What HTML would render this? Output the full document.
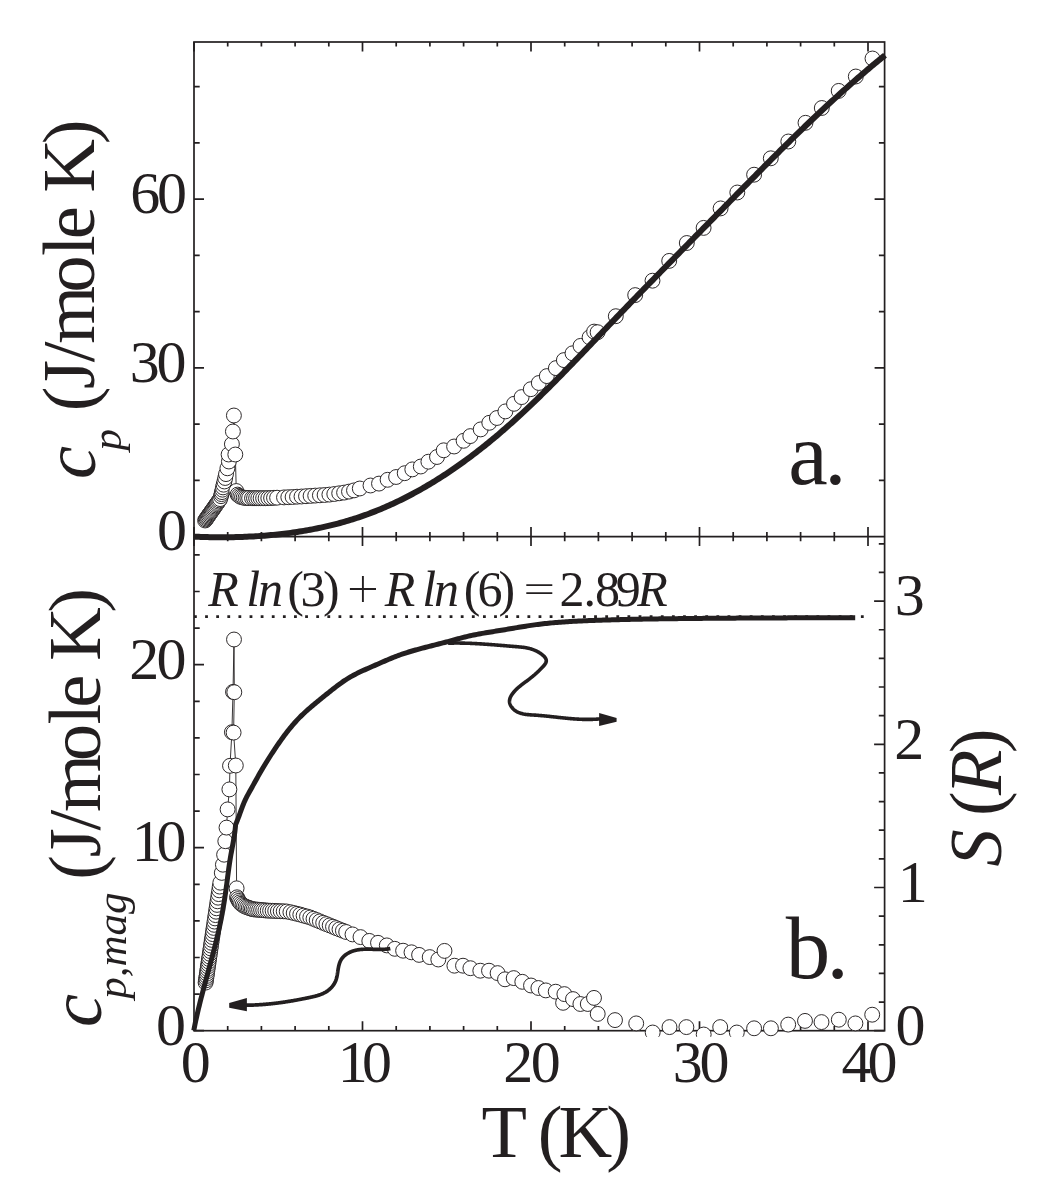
<!DOCTYPE html><html><head><meta charset="utf-8"><style>html,body{margin:0;padding:0;background:#fff;overflow:hidden}svg{display:block;will-change:transform}</style></head><body><svg width="1052" height="1191" viewBox="0 0 1052 1191">
<rect width="1052" height="1191" fill="#fff"/>
<defs><clipPath id="ca"><rect x="194.0" y="42.0" width="690.6" height="494.6"/></clipPath><clipPath id="cb"><rect x="184.0" y="536.6" width="700.6" height="500.1"/></clipPath></defs>
<g fill="none" stroke="#231f20" stroke-width="1.7" stroke-linecap="butt">
<path d="M194.00,42.0v9.5M194.00,536.6v-9.5M194.00,536.6v9.5M194.00,1030.7v-9.5M227.70,42.0v4.6M227.70,536.6v-4.6M227.70,536.6v4.6M227.70,1030.7v-4.6M261.40,42.0v4.6M261.40,536.6v-4.6M261.40,536.6v4.6M261.40,1030.7v-4.6M295.10,42.0v4.6M295.10,536.6v-4.6M295.10,536.6v4.6M295.10,1030.7v-4.6M328.80,42.0v4.6M328.80,536.6v-4.6M328.80,536.6v4.6M328.80,1030.7v-4.6M362.50,42.0v9.5M362.50,536.6v-9.5M362.50,536.6v9.5M362.50,1030.7v-9.5M396.20,42.0v4.6M396.20,536.6v-4.6M396.20,536.6v4.6M396.20,1030.7v-4.6M429.90,42.0v4.6M429.90,536.6v-4.6M429.90,536.6v4.6M429.90,1030.7v-4.6M463.60,42.0v4.6M463.60,536.6v-4.6M463.60,536.6v4.6M463.60,1030.7v-4.6M497.30,42.0v4.6M497.30,536.6v-4.6M497.30,536.6v4.6M497.30,1030.7v-4.6M531.00,42.0v9.5M531.00,536.6v-9.5M531.00,536.6v9.5M531.00,1030.7v-9.5M564.70,42.0v4.6M564.70,536.6v-4.6M564.70,536.6v4.6M564.70,1030.7v-4.6M598.40,42.0v4.6M598.40,536.6v-4.6M598.40,536.6v4.6M598.40,1030.7v-4.6M632.10,42.0v4.6M632.10,536.6v-4.6M632.10,536.6v4.6M632.10,1030.7v-4.6M665.80,42.0v4.6M665.80,536.6v-4.6M665.80,536.6v4.6M665.80,1030.7v-4.6M699.50,42.0v9.5M699.50,536.6v-9.5M699.50,536.6v9.5M699.50,1030.7v-9.5M733.20,42.0v4.6M733.20,536.6v-4.6M733.20,536.6v4.6M733.20,1030.7v-4.6M766.90,42.0v4.6M766.90,536.6v-4.6M766.90,536.6v4.6M766.90,1030.7v-4.6M800.60,42.0v4.6M800.60,536.6v-4.6M800.60,536.6v4.6M800.60,1030.7v-4.6M834.30,42.0v4.6M834.30,536.6v-4.6M834.30,536.6v4.6M834.30,1030.7v-4.6M868.00,42.0v9.5M868.00,536.6v-9.5M868.00,536.6v9.5M868.00,1030.7v-9.5M194.0,480.35h5.7M884.6,480.35h-5.7M194.0,424.10h5.7M884.6,424.10h-5.7M194.0,367.85h10M884.6,367.85h-10M194.0,311.60h5.7M884.6,311.60h-5.7M194.0,255.35h5.7M884.6,255.35h-5.7M194.0,199.10h10M884.6,199.10h-10M194.0,142.85h5.7M884.6,142.85h-5.7M194.0,86.60h5.7M884.6,86.60h-5.7M194.0,1030.70h10M194.0,994.10h5.7M194.0,957.50h5.7M194.0,920.90h5.7M194.0,884.30h5.7M194.0,847.70h10M194.0,811.10h5.7M194.0,774.50h5.7M194.0,737.90h5.7M194.0,701.30h5.7M194.0,664.70h10M194.0,628.10h5.7M194.0,591.50h5.7M194.0,554.90h5.7M884.6,1030.70h-10.5M884.6,1002.06h-5.8M884.6,973.42h-5.8M884.6,944.78h-5.8M884.6,916.14h-5.8M884.6,887.50h-10.5M884.6,858.86h-5.8M884.6,830.22h-5.8M884.6,801.58h-5.8M884.6,772.94h-5.8M884.6,744.30h-10.5M884.6,715.66h-5.8M884.6,687.02h-5.8M884.6,658.38h-5.8M884.6,629.74h-5.8M884.6,601.10h-10.5M884.6,572.46h-5.8M884.6,543.82h-5.8"/>
<rect x="194.0" y="42.0" width="690.60" height="988.70"/>
<path d="M194.0,536.6H884.6"/>
</g>
<g clip-path="url(#ca)">
<path d="M220.08,499.09 L221.02,496.20 L221.50,494.10 L221.95,492.10 L222.50,489.70 L223.02,487.40 L223.63,484.70 L224.36,481.50 L225.15,478.00 L226.04,474.10 L227.36,468.30 L228.90,461.50 L228.60,454.50 L231.90,444.10 L232.90,431.50 L233.90,415.50 L235.30,454.50 L236.30,491.00" fill="none" stroke="#231f20" stroke-width="0.9"/>
<g fill="#fff" stroke="#231f20" stroke-width="0.95">
<circle cx="205.1" cy="520.5" r="7.45"/>
<circle cx="205.8" cy="519.5" r="7.45"/>
<circle cx="206.5" cy="518.5" r="7.45"/>
<circle cx="207.2" cy="517.5" r="7.45"/>
<circle cx="207.9" cy="516.5" r="7.45"/>
<circle cx="208.6" cy="515.4" r="7.45"/>
<circle cx="209.4" cy="514.4" r="7.45"/>
<circle cx="210.1" cy="513.3" r="7.45"/>
<circle cx="210.9" cy="512.2" r="7.45"/>
<circle cx="211.7" cy="511.1" r="7.45"/>
<circle cx="212.5" cy="510.0" r="7.45"/>
<circle cx="213.3" cy="508.8" r="7.45"/>
<circle cx="214.1" cy="507.7" r="7.45"/>
<circle cx="214.9" cy="506.5" r="7.45"/>
<circle cx="215.7" cy="505.3" r="7.45"/>
<circle cx="216.6" cy="504.1" r="7.45"/>
<circle cx="217.4" cy="502.9" r="7.45"/>
<circle cx="218.3" cy="501.6" r="7.45"/>
<circle cx="219.2" cy="500.4" r="7.45"/>
<circle cx="220.1" cy="499.1" r="7.45"/>
<circle cx="221.0" cy="496.2" r="7.45"/>
<circle cx="221.5" cy="494.1" r="7.45"/>
<circle cx="222.0" cy="492.1" r="7.45"/>
<circle cx="222.5" cy="489.7" r="7.45"/>
<circle cx="223.0" cy="487.4" r="7.45"/>
<circle cx="223.6" cy="484.7" r="7.45"/>
<circle cx="224.4" cy="481.5" r="7.45"/>
<circle cx="225.2" cy="478.0" r="7.45"/>
<circle cx="226.0" cy="474.1" r="7.45"/>
<circle cx="227.4" cy="468.3" r="7.45"/>
<circle cx="228.9" cy="461.5" r="7.45"/>
<circle cx="228.6" cy="454.5" r="7.45"/>
<circle cx="231.9" cy="444.1" r="7.45"/>
<circle cx="232.9" cy="431.5" r="7.45"/>
<circle cx="233.9" cy="415.5" r="7.45"/>
<circle cx="235.3" cy="454.5" r="7.45"/>
<circle cx="236.3" cy="491.0" r="7.45"/>
<circle cx="237.6" cy="494.6" r="7.45"/>
<circle cx="238.9" cy="495.7" r="7.45"/>
<circle cx="240.3" cy="496.7" r="7.45"/>
<circle cx="242.0" cy="497.2" r="7.45"/>
<circle cx="243.7" cy="497.7" r="7.45"/>
<circle cx="245.5" cy="497.9" r="7.45"/>
<circle cx="247.3" cy="498.0" r="7.45"/>
<circle cx="249.1" cy="498.1" r="7.45"/>
<circle cx="252.0" cy="498.2" r="7.45"/>
<circle cx="254.0" cy="498.2" r="7.45"/>
<circle cx="256.1" cy="498.2" r="7.45"/>
<circle cx="258.3" cy="498.2" r="7.45"/>
<circle cx="260.6" cy="498.2" r="7.45"/>
<circle cx="263.1" cy="498.2" r="7.45"/>
<circle cx="265.6" cy="498.2" r="7.45"/>
<circle cx="268.3" cy="498.1" r="7.45"/>
<circle cx="271.1" cy="498.0" r="7.45"/>
<circle cx="274.0" cy="497.8" r="7.45"/>
<circle cx="277.1" cy="497.7" r="7.45"/>
<circle cx="284.0" cy="497.4" r="7.45"/>
<circle cx="288.3" cy="497.2" r="7.45"/>
<circle cx="292.6" cy="497.0" r="7.45"/>
<circle cx="297.0" cy="496.7" r="7.45"/>
<circle cx="301.5" cy="496.5" r="7.45"/>
<circle cx="306.0" cy="496.2" r="7.45"/>
<circle cx="310.6" cy="495.9" r="7.45"/>
<circle cx="315.2" cy="495.6" r="7.45"/>
<circle cx="319.9" cy="495.3" r="7.45"/>
<circle cx="324.6" cy="495.0" r="7.45"/>
<circle cx="329.4" cy="494.6" r="7.45"/>
<circle cx="334.3" cy="494.0" r="7.45"/>
<circle cx="339.2" cy="493.3" r="7.45"/>
<circle cx="344.1" cy="492.6" r="7.45"/>
<circle cx="349.0" cy="491.6" r="7.45"/>
<circle cx="354.0" cy="490.4" r="7.45"/>
<circle cx="359.8" cy="488.5" r="7.45"/>
<circle cx="370.5" cy="485.5" r="7.45"/>
<circle cx="379.0" cy="483.6" r="7.45"/>
<circle cx="387.6" cy="479.8" r="7.45"/>
<circle cx="396.1" cy="477.0" r="7.45"/>
<circle cx="404.7" cy="473.2" r="7.45"/>
<circle cx="412.3" cy="469.4" r="7.45"/>
<circle cx="420.8" cy="466.5" r="7.45"/>
<circle cx="428.4" cy="461.7" r="7.45"/>
<circle cx="437.0" cy="457.0" r="7.45"/>
<circle cx="443.7" cy="450.3" r="7.45"/>
<circle cx="454.1" cy="446.5" r="7.45"/>
<circle cx="463.6" cy="440.8" r="7.45"/>
<circle cx="470.3" cy="436.1" r="7.45"/>
<circle cx="480.7" cy="429.4" r="7.45"/>
<circle cx="489.3" cy="422.8" r="7.45"/>
<circle cx="496.9" cy="418.0" r="7.45"/>
<circle cx="505.4" cy="411.4" r="7.45"/>
<circle cx="514.0" cy="403.8" r="7.45"/>
<circle cx="521.6" cy="397.1" r="7.45"/>
<circle cx="530.8" cy="389.2" r="7.45"/>
<circle cx="538.8" cy="383.0" r="7.45"/>
<circle cx="546.8" cy="376.1" r="7.45"/>
<circle cx="555.9" cy="368.1" r="7.45"/>
<circle cx="563.9" cy="360.1" r="7.45"/>
<circle cx="572.5" cy="353.3" r="7.45"/>
<circle cx="580.5" cy="345.9" r="7.45"/>
<circle cx="589.6" cy="337.3" r="7.45"/>
<circle cx="594.1" cy="331.6" r="7.45"/>
<circle cx="597.6" cy="332.2" r="7.45"/>
<circle cx="615.8" cy="316.2" r="7.45"/>
<circle cx="635.2" cy="295.1" r="7.45"/>
<circle cx="652.5" cy="280.7" r="7.45"/>
<circle cx="669.2" cy="260.9" r="7.45"/>
<circle cx="686.8" cy="243.0" r="7.45"/>
<circle cx="703.6" cy="227.9" r="7.45"/>
<circle cx="720.6" cy="208.4" r="7.45"/>
<circle cx="737.3" cy="192.5" r="7.45"/>
<circle cx="754.1" cy="174.7" r="7.45"/>
<circle cx="770.8" cy="158.3" r="7.45"/>
<circle cx="788.3" cy="141.5" r="7.45"/>
<circle cx="805.5" cy="122.8" r="7.45"/>
<circle cx="821.8" cy="108.0" r="7.45"/>
<circle cx="838.7" cy="90.9" r="7.45"/>
<circle cx="855.8" cy="76.5" r="7.45"/>
<circle cx="872.5" cy="58.5" r="7.45"/>
</g>
</g>
<path d="M194.35,536.66 L196.53,536.75 L198.71,536.84 L200.88,536.91 L203.06,536.98 L205.25,537.04 L207.43,537.10 L209.62,537.14 L211.80,537.18 L213.99,537.22 L216.18,537.24 L218.37,537.26 L220.56,537.26 L222.75,537.27 L224.95,537.26 L227.14,537.24 L229.34,537.22 L231.53,537.19 L233.73,537.15 L235.92,537.10 L238.12,537.04 L240.32,536.97 L242.52,536.90 L244.71,536.81 L246.91,536.72 L249.11,536.62 L251.30,536.51 L253.50,536.39 L255.70,536.26 L257.89,536.12 L260.09,535.97 L262.28,535.81 L264.47,535.65 L266.66,535.47 L268.86,535.28 L271.04,535.08 L273.23,534.88 L275.42,534.66 L277.61,534.43 L279.79,534.19 L281.97,533.95 L284.16,533.69 L286.34,533.42 L288.51,533.14 L290.69,532.85 L292.86,532.55 L295.03,532.23 L297.20,531.91 L299.37,531.57 L301.53,531.23 L303.70,530.87 L305.85,530.50 L308.01,530.12 L310.16,529.73 L312.31,529.33 L314.46,528.91 L316.61,528.48 L318.75,528.05 L320.89,527.59 L323.02,527.13 L325.15,526.66 L327.28,526.17 L329.40,525.67 L331.52,525.16 L333.64,524.63 L335.75,524.09 L337.86,523.54 L339.96,522.98 L342.06,522.40 L344.16,521.81 L346.25,521.21 L348.33,520.60 L350.41,519.97 L352.49,519.32 L354.56,518.67 L356.63,518.00 L358.69,517.32 L360.75,516.62 L362.80,515.91 L364.85,515.18 L366.89,514.45 L368.92,513.69 L370.96,512.93 L372.98,512.15 L375.00,511.36 L377.02,510.56 L379.03,509.74 L381.03,508.91 L383.03,508.07 L385.03,507.21 L387.02,506.35 L389.00,505.47 L390.98,504.57 L392.95,503.67 L394.92,502.75 L396.88,501.83 L398.84,500.89 L400.79,499.94 L402.74,498.97 L404.68,498.00 L406.62,497.01 L408.55,496.02 L410.48,495.01 L412.40,493.99 L414.31,492.96 L416.22,491.92 L418.13,490.87 L420.03,489.81 L421.92,488.74 L423.81,487.65 L425.70,486.56 L427.58,485.46 L429.45,484.35 L431.32,483.23 L433.18,482.09 L435.04,480.95 L436.89,479.80 L438.74,478.64 L440.58,477.47 L442.42,476.29 L444.25,475.11 L446.08,473.91 L447.90,472.70 L449.71,471.49 L451.52,470.27 L453.33,469.04 L455.13,467.80 L456.92,466.55 L458.71,465.29 L460.49,464.03 L462.27,462.76 L464.04,461.48 L465.81,460.19 L467.57,458.89 L469.33,457.59 L471.08,456.28 L472.83,454.96 L474.57,453.64 L476.30,452.31 L478.03,450.97 L479.76,449.63 L481.48,448.27 L483.19,446.92 L484.90,445.55 L486.60,444.18 L488.30,442.80 L489.99,441.42 L491.68,440.03 L493.36,438.64 L495.04,437.23 L496.71,435.83 L498.38,434.42 L500.04,433.00 L501.70,431.57 L503.35,430.14 L505.00,428.71 L506.65,427.27 L508.29,425.83 L509.92,424.38 L511.55,422.92 L513.18,421.46 L514.80,420.00 L516.42,418.53 L518.04,417.05 L519.65,415.58 L521.25,414.09 L522.86,412.61 L524.46,411.11 L526.05,409.62 L527.65,408.12 L529.24,406.62 L530.82,405.11 L532.40,403.60 L533.98,402.08 L535.56,400.57 L537.13,399.05 L538.70,397.52 L540.27,395.99 L541.83,394.46 L543.39,392.93 L544.95,391.39 L546.51,389.85 L548.06,388.31 L549.61,386.76 L551.16,385.21 L552.71,383.66 L554.25,382.11 L555.79,380.55 L557.33,378.99 L558.87,377.43 L560.40,375.87 L561.94,374.30 L563.47,372.74 L565.00,371.17 L566.52,369.60 L568.05,368.03 L569.58,366.45 L571.10,364.88 L572.62,363.30 L574.14,361.72 L575.66,360.14 L577.18,358.57 L578.70,356.98 L580.21,355.40 L581.73,353.82 L583.24,352.24 L584.76,350.65 L586.27,349.07 L587.78,347.48 L589.29,345.90 L590.80,344.31 L592.31,342.73 L593.82,341.14 L595.33,339.56 L596.84,337.97 L598.35,336.39 L599.86,334.80 L601.37,333.22 L602.88,331.63 L604.39,330.05 L605.90,328.46 L607.41,326.88 L608.92,325.30 L610.43,323.72 L611.95,322.14 L613.46,320.56 L614.97,318.98 L616.48,317.41 L618.00,315.83 L619.51,314.26 L621.03,312.68 L622.54,311.11 L624.06,309.54 L625.57,307.96 L627.09,306.39 L628.60,304.82 L630.12,303.25 L631.64,301.68 L633.16,300.12 L634.67,298.55 L636.19,296.98 L637.71,295.42 L639.23,293.85 L640.75,292.28 L642.27,290.72 L643.79,289.16 L645.31,287.59 L646.83,286.03 L648.35,284.47 L649.87,282.91 L651.39,281.35 L652.92,279.79 L654.44,278.23 L655.96,276.67 L657.49,275.11 L659.01,273.55 L660.53,271.99 L662.06,270.43 L663.58,268.87 L665.11,267.32 L666.63,265.76 L668.16,264.20 L669.68,262.65 L671.21,261.09 L672.73,259.54 L674.26,257.98 L675.78,256.42 L677.31,254.87 L678.84,253.32 L680.36,251.76 L681.89,250.21 L683.42,248.65 L684.95,247.10 L686.47,245.54 L688.00,243.99 L689.53,242.44 L691.06,240.88 L692.59,239.33 L694.12,237.77 L695.64,236.22 L697.17,234.67 L698.70,233.11 L700.23,231.56 L701.76,230.00 L703.29,228.45 L704.82,226.90 L706.35,225.34 L707.88,223.79 L709.41,222.23 L710.94,220.68 L712.47,219.12 L714.00,217.57 L715.53,216.01 L717.06,214.46 L718.59,212.90 L720.12,211.35 L721.65,209.79 L723.18,208.23 L724.71,206.68 L726.25,205.12 L727.78,203.56 L729.31,202.00 L730.84,200.45 L732.37,198.89 L733.90,197.33 L735.43,195.77 L736.96,194.21 L738.50,192.65 L740.03,191.10 L741.56,189.54 L743.10,187.98 L744.63,186.42 L746.16,184.86 L747.70,183.31 L749.23,181.75 L750.77,180.19 L752.30,178.63 L753.84,177.08 L755.38,175.52 L756.92,173.97 L758.46,172.41 L760.00,170.86 L761.54,169.31 L763.08,167.75 L764.62,166.20 L766.16,164.65 L767.71,163.10 L769.25,161.55 L770.80,160.00 L772.34,158.46 L773.89,156.91 L775.44,155.37 L776.99,153.82 L778.54,152.28 L780.09,150.74 L781.64,149.20 L783.20,147.66 L784.75,146.12 L786.31,144.58 L787.87,143.05 L789.43,141.51 L790.99,139.98 L792.55,138.45 L794.12,136.92 L795.68,135.40 L797.25,133.87 L798.82,132.35 L800.39,130.83 L801.96,129.31 L803.53,127.79 L805.11,126.27 L806.69,124.76 L808.27,123.24 L809.85,121.73 L811.43,120.23 L813.01,118.72 L814.60,117.22 L816.19,115.72 L817.78,114.22 L819.37,112.72 L820.96,111.22 L822.56,109.73 L824.15,108.24 L825.75,106.76 L827.36,105.27 L828.96,103.79 L830.57,102.31 L832.18,100.83 L833.79,99.36 L835.40,97.89 L837.02,96.42 L838.63,94.96 L840.25,93.49 L841.88,92.03 L843.50,90.58 L845.13,89.12 L846.76,87.67 L848.39,86.23 L850.03,84.78 L851.67,83.34 L853.31,81.90 L854.95,80.47 L856.60,79.04 L858.25,77.61 L859.90,76.19 L861.55,74.77 L863.21,73.35 L864.87,71.94 L866.53,70.53 L868.20,69.12 L869.87,67.72 L871.54,66.32 L873.22,64.93 L874.89,63.54 L876.58,62.15 L878.26,60.77 L879.95,59.39 L881.64,58.02 L883.33,56.64 L885.03,55.28" fill="none" stroke="#231f20" stroke-width="6.0" stroke-linejoin="round"/>
<path d="M194.0,616.6H864.2" stroke="#231f20" stroke-width="2.8" stroke-dasharray="2.8 8.315" fill="none"/>
<g clip-path="url(#cb)">
<path d="M219.16,890.35 L219.72,886.56 L220.29,882.71 L221.80,872.90 L222.90,864.70 L224.10,854.70 L225.30,841.20 L226.50,827.60 L227.60,809.40 L229.40,789.40 L230.00,765.80 L231.90,732.20 L233.00,691.90 L234.00,639.50 L234.30,692.20 L233.60,732.60 L235.80,765.50 L236.60,888.30" fill="none" stroke="#231f20" stroke-width="0.9"/>
<g fill="#fff" stroke="#231f20" stroke-width="0.95">
<circle cx="205.6" cy="982.6" r="7.45"/>
<circle cx="205.9" cy="980.4" r="7.45"/>
<circle cx="206.2" cy="978.2" r="7.45"/>
<circle cx="206.6" cy="976.0" r="7.45"/>
<circle cx="206.9" cy="973.7" r="7.45"/>
<circle cx="207.2" cy="971.3" r="7.45"/>
<circle cx="207.6" cy="969.0" r="7.45"/>
<circle cx="207.9" cy="966.5" r="7.45"/>
<circle cx="208.3" cy="964.1" r="7.45"/>
<circle cx="208.7" cy="961.6" r="7.45"/>
<circle cx="209.0" cy="959.0" r="7.45"/>
<circle cx="209.4" cy="956.5" r="7.45"/>
<circle cx="209.8" cy="953.8" r="7.45"/>
<circle cx="210.2" cy="951.1" r="7.45"/>
<circle cx="210.6" cy="948.4" r="7.45"/>
<circle cx="211.0" cy="945.6" r="7.45"/>
<circle cx="211.4" cy="942.8" r="7.45"/>
<circle cx="211.8" cy="939.9" r="7.45"/>
<circle cx="212.3" cy="937.0" r="7.45"/>
<circle cx="212.7" cy="934.1" r="7.45"/>
<circle cx="213.1" cy="931.0" r="7.45"/>
<circle cx="213.6" cy="927.9" r="7.45"/>
<circle cx="214.1" cy="924.8" r="7.45"/>
<circle cx="214.5" cy="921.6" r="7.45"/>
<circle cx="215.0" cy="918.4" r="7.45"/>
<circle cx="215.5" cy="915.1" r="7.45"/>
<circle cx="216.0" cy="911.7" r="7.45"/>
<circle cx="216.5" cy="908.3" r="7.45"/>
<circle cx="217.0" cy="904.9" r="7.45"/>
<circle cx="217.5" cy="901.3" r="7.45"/>
<circle cx="218.1" cy="897.7" r="7.45"/>
<circle cx="218.6" cy="894.1" r="7.45"/>
<circle cx="219.2" cy="890.3" r="7.45"/>
<circle cx="219.7" cy="886.6" r="7.45"/>
<circle cx="220.3" cy="882.7" r="7.45"/>
<circle cx="221.8" cy="872.9" r="7.45"/>
<circle cx="222.9" cy="864.7" r="7.45"/>
<circle cx="224.1" cy="854.7" r="7.45"/>
<circle cx="225.3" cy="841.2" r="7.45"/>
<circle cx="226.5" cy="827.6" r="7.45"/>
<circle cx="227.6" cy="809.4" r="7.45"/>
<circle cx="229.4" cy="789.4" r="7.45"/>
<circle cx="230.0" cy="765.8" r="7.45"/>
<circle cx="231.9" cy="732.2" r="7.45"/>
<circle cx="233.0" cy="691.9" r="7.45"/>
<circle cx="234.0" cy="639.5" r="7.45"/>
<circle cx="234.3" cy="692.2" r="7.45"/>
<circle cx="233.6" cy="732.6" r="7.45"/>
<circle cx="235.8" cy="765.5" r="7.45"/>
<circle cx="236.6" cy="888.3" r="7.45"/>
<circle cx="237.0" cy="897.3" r="7.45"/>
<circle cx="237.8" cy="899.1" r="7.45"/>
<circle cx="238.7" cy="900.9" r="7.45"/>
<circle cx="239.8" cy="902.4" r="7.45"/>
<circle cx="241.0" cy="903.8" r="7.45"/>
<circle cx="242.5" cy="904.9" r="7.45"/>
<circle cx="244.0" cy="905.9" r="7.45"/>
<circle cx="245.6" cy="906.7" r="7.45"/>
<circle cx="247.2" cy="907.3" r="7.45"/>
<circle cx="248.8" cy="907.9" r="7.45"/>
<circle cx="250.4" cy="908.4" r="7.45"/>
<circle cx="251.9" cy="909.0" r="7.45"/>
<circle cx="253.5" cy="909.3" r="7.45"/>
<circle cx="255.3" cy="909.5" r="7.45"/>
<circle cx="257.2" cy="909.6" r="7.45"/>
<circle cx="259.1" cy="909.8" r="7.45"/>
<circle cx="261.1" cy="910.0" r="7.45"/>
<circle cx="263.2" cy="910.2" r="7.45"/>
<circle cx="265.4" cy="910.4" r="7.45"/>
<circle cx="267.7" cy="910.6" r="7.45"/>
<circle cx="270.1" cy="910.7" r="7.45"/>
<circle cx="272.6" cy="910.8" r="7.45"/>
<circle cx="275.2" cy="910.9" r="7.45"/>
<circle cx="277.9" cy="911.1" r="7.45"/>
<circle cx="280.7" cy="911.2" r="7.45"/>
<circle cx="283.7" cy="911.3" r="7.45"/>
<circle cx="286.7" cy="911.5" r="7.45"/>
<circle cx="290.4" cy="912.2" r="7.45"/>
<circle cx="293.7" cy="913.0" r="7.45"/>
<circle cx="297.0" cy="913.8" r="7.45"/>
<circle cx="300.3" cy="914.6" r="7.45"/>
<circle cx="303.6" cy="915.6" r="7.45"/>
<circle cx="307.0" cy="916.5" r="7.45"/>
<circle cx="310.3" cy="917.5" r="7.45"/>
<circle cx="313.5" cy="918.8" r="7.45"/>
<circle cx="316.7" cy="920.1" r="7.45"/>
<circle cx="319.9" cy="921.4" r="7.45"/>
<circle cx="323.2" cy="922.8" r="7.45"/>
<circle cx="326.4" cy="924.1" r="7.45"/>
<circle cx="329.7" cy="925.4" r="7.45"/>
<circle cx="333.0" cy="926.7" r="7.45"/>
<circle cx="336.2" cy="928.1" r="7.45"/>
<circle cx="339.5" cy="929.4" r="7.45"/>
<circle cx="342.9" cy="930.7" r="7.45"/>
<circle cx="346.2" cy="932.0" r="7.45"/>
<circle cx="352.5" cy="934.4" r="7.45"/>
<circle cx="360.5" cy="937.1" r="7.45"/>
<circle cx="369.3" cy="940.9" r="7.45"/>
<circle cx="378.0" cy="942.8" r="7.45"/>
<circle cx="386.8" cy="945.4" r="7.45"/>
<circle cx="394.8" cy="948.8" r="7.45"/>
<circle cx="403.1" cy="950.7" r="7.45"/>
<circle cx="411.5" cy="952.3" r="7.45"/>
<circle cx="419.1" cy="954.9" r="7.45"/>
<circle cx="429.7" cy="957.1" r="7.45"/>
<circle cx="438.3" cy="959.5" r="7.45"/>
<circle cx="444.5" cy="950.9" r="7.45"/>
<circle cx="454.4" cy="965.7" r="7.45"/>
<circle cx="463.0" cy="965.7" r="7.45"/>
<circle cx="470.4" cy="968.2" r="7.45"/>
<circle cx="480.3" cy="970.7" r="7.45"/>
<circle cx="489.0" cy="970.7" r="7.45"/>
<circle cx="497.6" cy="973.1" r="7.45"/>
<circle cx="505.0" cy="979.3" r="7.45"/>
<circle cx="513.7" cy="978.1" r="7.45"/>
<circle cx="522.3" cy="981.8" r="7.45"/>
<circle cx="531.0" cy="985.5" r="7.45"/>
<circle cx="538.4" cy="988.0" r="7.45"/>
<circle cx="545.8" cy="990.4" r="7.45"/>
<circle cx="555.7" cy="991.7" r="7.45"/>
<circle cx="563.1" cy="1002.8" r="7.45"/>
<circle cx="564.4" cy="994.1" r="7.45"/>
<circle cx="573.0" cy="999.1" r="7.45"/>
<circle cx="580.4" cy="1004.0" r="7.45"/>
<circle cx="587.8" cy="1004.0" r="7.45"/>
<circle cx="594.0" cy="997.9" r="7.45"/>
<circle cx="597.7" cy="1013.9" r="7.45"/>
<circle cx="615.0" cy="1020.1" r="7.45"/>
<circle cx="636.2" cy="1023.4" r="7.45"/>
<circle cx="652.7" cy="1032.5" r="7.45"/>
<circle cx="669.5" cy="1027.1" r="7.45"/>
<circle cx="686.4" cy="1027.1" r="7.45"/>
<circle cx="703.7" cy="1034.5" r="7.45"/>
<circle cx="720.2" cy="1027.1" r="7.45"/>
<circle cx="736.8" cy="1032.5" r="7.45"/>
<circle cx="754.1" cy="1028.3" r="7.45"/>
<circle cx="770.9" cy="1028.3" r="7.45"/>
<circle cx="788.2" cy="1024.6" r="7.45"/>
<circle cx="805.0" cy="1020.9" r="7.45"/>
<circle cx="821.5" cy="1022.1" r="7.45"/>
<circle cx="838.8" cy="1019.7" r="7.45"/>
<circle cx="855.4" cy="1023.4" r="7.45"/>
<circle cx="872.2" cy="1014.7" r="7.45"/>
</g>
<path d="M193.80,1030.50 L194.13,1028.76 L194.47,1027.03 L194.82,1025.29 L195.17,1023.56 L195.53,1021.83 L195.90,1020.10 L196.27,1018.38 L196.66,1016.65 L197.04,1014.92 L197.44,1013.20 L197.84,1011.48 L198.24,1009.76 L198.65,1008.04 L199.07,1006.32 L199.49,1004.60 L199.91,1002.89 L200.34,1001.17 L200.78,999.46 L201.21,997.74 L201.66,996.03 L202.10,994.32 L202.55,992.60 L203.00,990.89 L203.45,989.18 L203.90,987.47 L204.36,985.76 L204.82,984.05 L205.28,982.34 L205.74,980.63 L206.21,978.93 L206.67,977.22 L207.13,975.51 L207.60,973.80 L208.06,972.09 L208.53,970.39 L208.99,968.68 L209.46,966.97 L209.92,965.26 L210.38,963.55 L210.84,961.84 L211.30,960.13 L211.76,958.42 L212.21,956.71 L212.66,955.00 L213.11,953.29 L213.56,951.58 L214.00,949.87 L214.45,948.16 L214.88,946.44 L215.32,944.73 L215.74,943.01 L216.17,941.30 L216.59,939.58 L217.00,937.86 L217.42,936.14 L217.82,934.42 L218.22,932.70 L218.61,930.98 L219.00,929.25 L219.38,927.53 L219.76,925.80 L220.12,924.07 L220.49,922.34 L220.84,920.61 L221.19,918.88 L221.52,917.14 L221.85,915.40 L222.18,913.67 L222.49,911.93 L222.80,910.19 L223.11,908.44 L223.40,906.70 L223.69,904.96 L223.98,903.21 L224.25,901.46 L224.53,899.72 L224.79,897.97 L225.05,896.22 L225.31,894.47 L225.56,892.72 L225.81,890.97 L226.05,889.21 L226.29,887.46 L226.53,885.71 L226.76,883.95 L226.99,882.20 L227.21,880.44 L227.44,878.69 L227.66,876.93 L227.89,875.18 L228.12,873.43 L228.35,871.67 L228.59,869.92 L228.82,868.17 L229.07,866.42 L229.32,864.67 L229.58,862.92 L229.84,861.17 L230.12,859.43 L230.40,857.68 L230.70,855.94 L231.00,854.20 L231.32,852.46 L231.64,850.72 L231.96,848.98 L232.28,847.24 L232.61,845.50 L232.93,843.76 L233.24,842.02 L233.55,840.28 L233.85,838.54 L234.13,836.79 L234.41,835.05 L234.66,833.30 L234.90,831.55 L235.11,829.79 L235.30,828.03 L235.46,826.27 L235.60,824.50 L236.31,822.89 L236.99,821.26 L237.65,819.62 L238.28,817.97 L238.90,816.32 L239.50,814.66 L240.10,813.00 L240.69,811.33 L241.29,809.67 L241.90,808.02 L242.52,806.37 L243.17,804.73 L243.83,803.10 L244.53,801.48 L245.26,799.88 L246.02,798.29 L246.82,796.72 L247.65,795.16 L248.49,793.61 L249.35,792.07 L250.21,790.52 L251.07,788.98 L251.92,787.44 L252.78,785.89 L253.63,784.35 L254.48,782.81 L255.34,781.26 L256.19,779.72 L257.05,778.18 L257.91,776.64 L258.78,775.10 L259.64,773.57 L260.52,772.04 L261.40,770.52 L262.29,768.99 L263.18,767.48 L264.09,765.97 L265.00,764.46 L265.92,762.95 L266.84,761.45 L267.77,759.96 L268.71,758.46 L269.66,756.97 L270.61,755.49 L271.57,754.01 L272.53,752.53 L273.50,751.05 L274.48,749.58 L275.46,748.11 L276.45,746.64 L277.45,745.18 L278.45,743.72 L279.47,742.26 L280.49,740.82 L281.51,739.37 L282.55,737.94 L283.60,736.51 L284.66,735.09 L285.72,733.68 L286.80,732.28 L287.89,730.89 L288.99,729.51 L290.10,728.14 L291.23,726.78 L292.36,725.43 L293.51,724.10 L294.68,722.77 L295.86,721.46 L297.05,720.17 L298.26,718.89 L299.48,717.63 L300.72,716.38 L301.97,715.15 L303.24,713.93 L304.52,712.73 L305.82,711.53 L307.12,710.35 L308.44,709.19 L309.77,708.03 L311.11,706.88 L312.45,705.74 L313.80,704.60 L315.16,703.47 L316.53,702.35 L317.90,701.23 L319.27,700.12 L320.65,699.01 L322.02,697.89 L323.40,696.78 L324.78,695.67 L326.16,694.56 L327.54,693.45 L328.93,692.34 L330.31,691.23 L331.69,690.13 L333.08,689.03 L334.48,687.95 L335.88,686.87 L337.29,685.80 L338.70,684.74 L340.13,683.70 L341.56,682.68 L343.01,681.67 L344.46,680.68 L345.93,679.72 L347.41,678.77 L348.91,677.85 L350.42,676.96 L351.94,676.09 L353.48,675.24 L355.04,674.42 L356.61,673.62 L358.18,672.83 L359.77,672.07 L361.37,671.32 L362.97,670.58 L364.58,669.85 L366.20,669.13 L367.81,668.42 L369.44,667.71 L371.06,667.01 L372.69,666.30 L374.31,665.60 L375.93,664.89 L377.55,664.19 L379.17,663.48 L380.79,662.77 L382.41,662.06 L384.03,661.36 L385.65,660.66 L387.27,659.96 L388.89,659.27 L390.52,658.59 L392.15,657.92 L393.78,657.27 L395.42,656.62 L397.06,655.99 L398.71,655.37 L400.37,654.77 L402.03,654.19 L403.69,653.62 L405.37,653.07 L407.04,652.53 L408.73,652.00 L410.41,651.49 L412.11,650.99 L413.80,650.50 L415.50,650.02 L417.20,649.55 L418.90,649.09 L420.61,648.63 L422.32,648.18 L424.03,647.74 L425.74,647.29 L427.45,646.85 L429.16,646.42 L430.87,645.98 L432.58,645.54 L434.29,645.10 L436.00,644.67 L437.70,644.23 L439.41,643.79 L441.12,643.35 L442.82,642.90 L444.53,642.46 L446.23,642.01 L447.94,641.55 L449.64,641.10 L451.34,640.64 L453.05,640.17 L454.75,639.71 L456.45,639.24 L458.15,638.78 L459.86,638.32 L461.56,637.87 L463.27,637.43 L464.98,637.00 L466.69,636.57 L468.40,636.17 L470.12,635.77 L471.84,635.40 L473.57,635.03 L475.30,634.68 L477.03,634.35 L478.76,634.02 L480.50,633.71 L482.24,633.40 L483.97,633.10 L485.71,632.81 L487.45,632.52 L489.20,632.23 L490.94,631.95 L492.68,631.66 L494.42,631.38 L496.16,631.09 L497.90,630.81 L499.64,630.52 L501.38,630.24 L503.12,629.95 L504.86,629.66 L506.60,629.37 L508.34,629.08 L510.07,628.79 L511.81,628.49 L513.55,628.19 L515.29,627.90 L517.03,627.60 L518.77,627.30 L520.51,627.01 L522.25,626.72 L523.99,626.44 L525.73,626.16 L527.47,625.88 L529.21,625.62 L530.96,625.36 L532.70,625.11 L534.45,624.87 L536.20,624.64 L537.95,624.41 L539.70,624.19 L541.45,623.99 L543.20,623.78 L544.95,623.59 L546.71,623.40 L548.46,623.22 L550.22,623.05 L551.98,622.88 L553.73,622.72 L555.49,622.57 L557.25,622.42 L559.01,622.28 L560.76,622.14 L562.52,622.01 L564.28,621.89 L566.04,621.77 L567.80,621.65 L569.56,621.54 L571.32,621.44 L573.08,621.33 L574.84,621.24 L576.60,621.14 L578.37,621.06 L580.13,620.97 L581.89,620.89 L583.65,620.81 L585.41,620.73 L587.17,620.66 L588.94,620.59 L590.70,620.52 L592.46,620.46 L594.22,620.40 L595.99,620.33 L597.75,620.27 L599.51,620.22 L601.28,620.16 L603.04,620.10 L604.80,620.05 L606.56,620.00 L608.33,619.94 L610.09,619.89 L611.85,619.84 L613.62,619.79 L615.38,619.75 L617.14,619.70 L618.90,619.65 L620.67,619.61 L622.43,619.57 L624.19,619.52 L625.96,619.48 L627.72,619.44 L629.48,619.40 L631.25,619.36 L633.01,619.32 L634.77,619.29 L636.53,619.25 L638.30,619.22 L640.06,619.18 L641.82,619.15 L643.59,619.12 L645.35,619.09 L647.11,619.05 L648.88,619.02 L650.64,618.99 L652.40,618.97 L654.17,618.94 L655.93,618.91 L657.69,618.88 L659.46,618.86 L661.22,618.83 L662.98,618.81 L664.75,618.78 L666.51,618.76 L668.27,618.74 L670.04,618.71 L671.80,618.69 L673.56,618.67 L675.33,618.65 L677.09,618.63 L678.85,618.61 L680.62,618.59 L682.38,618.57 L684.14,618.55 L685.91,618.53 L687.67,618.52 L689.43,618.50 L691.20,618.48 L692.96,618.46 L694.72,618.45 L696.49,618.43 L698.25,618.42 L700.02,618.40 L701.78,618.38 L703.54,618.37 L705.31,618.35 L707.07,618.34 L708.83,618.32 L710.60,618.31 L712.36,618.30 L714.12,618.28 L715.89,618.27 L717.65,618.25 L719.41,618.24 L721.18,618.23 L722.94,618.22 L724.70,618.20 L726.47,618.19 L728.23,618.18 L729.99,618.17 L731.76,618.15 L733.52,618.14 L735.28,618.13 L737.05,618.12 L738.81,618.11 L740.57,618.10 L742.34,618.09 L744.10,618.08 L745.86,618.07 L747.63,618.06 L749.39,618.05 L751.15,618.04 L752.92,618.03 L754.68,618.02 L756.45,618.01 L758.21,618.00 L759.97,617.99 L761.74,617.98 L763.50,617.97 L765.26,617.96 L767.03,617.96 L768.79,617.95 L770.55,617.94 L772.32,617.93 L774.08,617.92 L775.84,617.92 L777.61,617.91 L779.37,617.90 L781.13,617.90 L782.90,617.89 L784.66,617.88 L786.42,617.88 L788.19,617.87 L789.95,617.86 L791.71,617.86 L793.48,617.85 L795.24,617.84 L797.01,617.84 L798.77,617.83 L800.53,617.83 L802.30,617.82 L804.06,617.82 L805.82,617.81 L807.59,617.81 L809.35,617.80 L811.11,617.80 L812.88,617.79 L814.64,617.79 L816.40,617.78 L818.17,617.78 L819.93,617.77 L821.69,617.77 L823.46,617.76 L825.22,617.76 L826.98,617.75 L828.75,617.75 L830.51,617.75 L832.27,617.74 L834.04,617.74 L835.80,617.74 L837.57,617.73 L839.33,617.73 L841.09,617.73 L842.86,617.72 L844.62,617.72 L846.38,617.72 L848.15,617.71 L849.91,617.71 L851.67,617.71 L853.44,617.70 L855.20,617.70" fill="none" stroke="#231f20" stroke-width="5.0" stroke-linejoin="round"/>
</g>
<path d="M390.30,948.50 L389.89,948.59 L389.48,948.67 L389.07,948.74 L388.65,948.82 L388.23,948.88 L387.81,948.94 L387.39,949.00 L386.97,949.05 L386.55,949.10 L386.12,949.15 L385.70,949.19 L385.27,949.23 L384.84,949.26 L384.41,949.29 L383.97,949.32 L383.54,949.34 L383.10,949.36 L382.67,949.37 L382.23,949.39 L381.79,949.40 L381.35,949.41 L380.91,949.42 L380.46,949.42 L380.02,949.42 L379.58,949.42 L379.13,949.42 L378.69,949.42 L378.24,949.41 L377.79,949.40 L377.34,949.40 L376.89,949.39 L376.44,949.38 L375.99,949.37 L375.54,949.36 L375.09,949.34 L374.64,949.33 L374.19,949.32 L373.73,949.30 L373.28,949.29 L372.83,949.28 L372.37,949.26 L371.92,949.25 L371.47,949.24 L371.01,949.23 L370.56,949.22 L370.11,949.21 L369.65,949.20 L369.20,949.19 L368.74,949.19 L368.29,949.18 L367.84,949.18 L367.38,949.18 L366.93,949.18 L366.48,949.18 L366.03,949.19 L365.57,949.20 L365.12,949.21 L364.67,949.22 L364.22,949.23 L363.77,949.25 L363.32,949.27 L362.87,949.30 L362.43,949.33 L361.98,949.36 L361.53,949.39 L361.09,949.43 L360.64,949.48 L360.20,949.52 L359.76,949.57 L359.32,949.63 L358.88,949.69 L358.44,949.75 L358.00,949.82 L357.56,949.90 L357.13,949.97 L356.69,950.06 L356.26,950.15 L355.83,950.24 L355.40,950.34 L354.97,950.45 L354.54,950.56 L354.12,950.68 L353.69,950.80 L353.27,950.93 L352.85,951.07 L352.43,951.21 L352.01,951.36 L351.60,951.52 L351.19,951.68 L350.78,951.86 L350.37,952.03 L349.96,952.22 L349.55,952.41 L349.15,952.61 L348.75,952.82 L348.35,953.04 L347.96,953.26 L347.57,953.49 L347.19,953.73 L346.81,953.97 L346.43,954.22 L346.06,954.48 L345.70,954.75 L345.34,955.02 L344.99,955.30 L344.64,955.59 L344.31,955.89 L343.98,956.19 L343.66,956.50 L343.34,956.81 L343.04,957.14 L342.75,957.47 L342.46,957.80 L342.19,958.15 L341.92,958.50 L341.67,958.85 L341.42,959.22 L341.19,959.59 L340.97,959.96 L340.76,960.35 L340.56,960.74 L340.37,961.13 L340.19,961.53 L340.01,961.93 L339.85,962.34 L339.69,962.76 L339.55,963.17 L339.41,963.59 L339.28,964.02 L339.15,964.45 L339.03,964.88 L338.92,965.31 L338.81,965.75 L338.71,966.19 L338.61,966.63 L338.52,967.07 L338.43,967.51 L338.35,967.96 L338.27,968.40 L338.19,968.85 L338.12,969.30 L338.05,969.74 L337.98,970.19 L337.91,970.64 L337.84,971.08 L337.78,971.53 L337.71,971.97 L337.65,972.42 L337.58,972.86 L337.51,973.30 L337.45,973.74 L337.38,974.18 L337.30,974.62 L337.23,975.06 L337.15,975.49 L337.07,975.93 L336.98,976.36 L336.89,976.79 L336.79,977.22 L336.69,977.65 L336.59,978.07 L336.47,978.49 L336.35,978.91 L336.23,979.33 L336.09,979.75 L335.95,980.16 L335.80,980.57 L335.64,980.98 L335.47,981.38 L335.29,981.78 L335.10,982.18 L334.90,982.57 L334.69,982.96 L334.47,983.35 L334.25,983.73 L334.02,984.11 L333.77,984.48 L333.52,984.85 L333.27,985.22 L333.00,985.58 L332.73,985.94 L332.45,986.29 L332.16,986.64 L331.87,986.98 L331.57,987.31 L331.26,987.64 L330.95,987.97 L330.63,988.29 L330.31,988.60 L329.98,988.91 L329.65,989.21 L329.31,989.51 L328.97,989.79 L328.62,990.08 L328.27,990.35 L327.91,990.62 L327.55,990.88 L327.19,991.13 L326.82,991.38 L326.45,991.62 L326.07,991.86 L325.69,992.08 L325.31,992.31 L324.93,992.52 L324.54,992.73 L324.15,992.93 L323.76,993.13 L323.36,993.32 L322.96,993.51 L322.56,993.69 L322.16,993.87 L321.75,994.04 L321.34,994.21 L320.93,994.37 L320.52,994.53 L320.10,994.68 L319.68,994.83 L319.26,994.98 L318.84,995.12 L318.42,995.26 L317.99,995.39 L317.57,995.52 L317.14,995.65 L316.71,995.77 L316.28,995.89 L315.85,996.01 L315.42,996.13 L314.98,996.24 L314.55,996.35 L314.11,996.46 L313.67,996.57 L313.24,996.67 L312.80,996.77 L312.36,996.87 L311.92,996.97 L311.48,997.07 L311.04,997.17 L310.60,997.26 L310.16,997.35 L309.72,997.45 L309.28,997.54 L308.84,997.63 L308.40,997.73 L307.96,997.82 L307.52,997.91 L307.08,998.00 L306.64,998.09 L306.21,998.18 L305.77,998.27 L305.33,998.36 L304.89,998.45 L304.45,998.53 L304.02,998.62 L303.58,998.71 L303.14,998.79 L302.70,998.88 L302.27,998.97 L301.83,999.05 L301.39,999.14 L300.96,999.22 L300.52,999.31 L300.09,999.39 L299.65,999.47 L299.21,999.55 L298.78,999.64 L298.34,999.72 L297.91,999.80 L297.47,999.88 L297.04,999.96 L296.60,1000.04 L296.17,1000.12 L295.73,1000.20 L295.30,1000.27 L294.86,1000.35 L294.43,1000.43 L293.99,1000.51 L293.56,1000.58 L293.13,1000.66 L292.69,1000.73 L292.26,1000.81 L291.82,1000.88 L291.39,1000.95 L290.96,1001.03 L290.52,1001.10 L290.09,1001.17 L289.66,1001.24 L289.22,1001.31 L288.79,1001.38 L288.35,1001.45 L287.92,1001.52 L287.49,1001.59 L287.05,1001.66 L286.62,1001.73 L286.19,1001.79 L285.75,1001.86 L285.32,1001.93 L284.89,1001.99 L284.45,1002.06 L284.02,1002.12 L283.59,1002.18 L283.15,1002.25 L282.72,1002.31 L282.29,1002.37 L281.85,1002.43 L281.42,1002.49 L280.99,1002.55 L280.55,1002.61 L280.12,1002.67 L279.69,1002.73 L279.25,1002.79 L278.82,1002.84 L278.39,1002.90 L277.95,1002.96 L277.52,1003.01 L277.08,1003.07 L276.65,1003.12 L276.22,1003.17 L275.78,1003.23 L275.35,1003.28 L274.91,1003.33 L274.48,1003.38 L274.05,1003.43 L273.61,1003.48 L273.18,1003.53 L272.74,1003.58 L272.31,1003.63 L271.87,1003.67 L271.44,1003.72 L271.00,1003.76 L270.57,1003.81 L270.13,1003.85 L269.70,1003.90 L269.26,1003.94 L268.82,1003.98 L268.39,1004.03 L267.95,1004.07 L267.52,1004.11 L267.08,1004.15 L266.64,1004.19 L266.21,1004.22 L265.77,1004.26 L265.33,1004.30 L264.89,1004.34 L264.46,1004.37 L264.02,1004.41 L263.58,1004.44 L263.14,1004.47 L262.71,1004.51 L262.27,1004.54 L261.83,1004.57 L261.39,1004.60 L260.95,1004.63 L260.51,1004.66 L260.07,1004.69 L259.63,1004.72 L259.19,1004.75 L258.75,1004.77 L258.31,1004.80 L257.87,1004.82 L257.43,1004.85 L256.99,1004.87 L256.55,1004.89 L256.11,1004.92 L255.66,1004.94 L255.22,1004.96 L254.78,1004.98 L254.34,1005.00 L253.89,1005.02 L253.45,1005.03 L253.01,1005.05 L252.56,1005.07 L252.12,1005.08 L251.67,1005.10 L251.23,1005.11 L250.78,1005.12 L250.34,1005.14 L249.89,1005.15 L249.45,1005.16 L249.00,1005.17 L248.55,1005.18 L248.11,1005.19 L247.66,1005.19 L247.21,1005.20 L246.76,1005.21 L246.32,1005.21 L245.87,1005.22 L245.42,1005.22 L244.97,1005.22 L244.52,1005.22 L244.07,1005.23 L243.62,1005.23 L243.17,1005.23 L242.72,1005.22 L242.26,1005.22 L241.81,1005.22 L241.36,1005.22 L240.91,1005.21 L240.45,1005.21 L240.00,1005.20" fill="none" stroke="#231f20" stroke-width="3.7" stroke-linejoin="round"/>
<path d="M229.2,1002.9 L246.9,998.1 L246.9,1011.2 L229.2,1007.8 Z" fill="#231f20"/>
<path d="M448.10,643.20 L448.73,643.18 L449.36,643.16 L449.99,643.14 L450.62,643.13 L451.25,643.12 L451.88,643.10 L452.51,643.09 L453.15,643.08 L453.78,643.08 L454.41,643.07 L455.04,643.07 L455.68,643.06 L456.31,643.06 L456.95,643.06 L457.58,643.06 L458.22,643.06 L458.85,643.07 L459.49,643.07 L460.13,643.08 L460.76,643.09 L461.40,643.10 L462.04,643.11 L462.68,643.12 L463.31,643.13 L463.95,643.15 L464.59,643.16 L465.23,643.18 L465.87,643.20 L466.51,643.21 L467.15,643.23 L467.79,643.25 L468.43,643.28 L469.07,643.30 L469.71,643.32 L470.35,643.35 L470.99,643.38 L471.63,643.40 L472.27,643.43 L472.91,643.46 L473.55,643.49 L474.19,643.52 L474.84,643.55 L475.48,643.58 L476.12,643.62 L476.76,643.65 L477.40,643.69 L478.04,643.72 L478.69,643.76 L479.33,643.80 L479.97,643.84 L480.61,643.88 L481.25,643.92 L481.90,643.96 L482.54,644.00 L483.18,644.04 L483.82,644.08 L484.46,644.12 L485.10,644.17 L485.75,644.21 L486.39,644.26 L487.03,644.30 L487.67,644.35 L488.31,644.39 L488.95,644.44 L489.60,644.49 L490.24,644.54 L490.88,644.58 L491.52,644.63 L492.16,644.68 L492.80,644.73 L493.44,644.78 L494.08,644.83 L494.72,644.88 L495.36,644.93 L496.00,644.98 L496.64,645.03 L497.28,645.09 L497.92,645.14 L498.55,645.19 L499.19,645.24 L499.83,645.29 L500.47,645.35 L501.11,645.40 L501.74,645.45 L502.38,645.51 L503.02,645.56 L503.65,645.61 L504.29,645.66 L504.92,645.72 L505.56,645.77 L506.19,645.82 L506.83,645.88 L507.46,645.93 L508.10,645.98 L508.73,646.04 L509.36,646.09 L510.00,646.14 L510.63,646.19 L511.26,646.25 L511.89,646.30 L512.52,646.35 L513.15,646.40 L513.78,646.45 L514.41,646.50 L515.04,646.55 L515.67,646.61 L516.29,646.66 L516.92,646.71 L517.55,646.76 L518.17,646.81 L518.80,646.86 L519.42,646.92 L520.05,646.98 L520.67,647.04 L521.30,647.11 L521.92,647.17 L522.54,647.25 L523.16,647.33 L523.78,647.41 L524.40,647.50 L525.02,647.59 L525.64,647.69 L526.26,647.80 L526.88,647.92 L527.50,648.04 L528.11,648.18 L528.73,648.32 L529.34,648.47 L529.96,648.63 L530.57,648.80 L531.19,648.98 L531.80,649.17 L532.41,649.38 L533.02,649.60 L533.64,649.83 L534.25,650.07 L534.86,650.32 L535.46,650.59 L536.07,650.88 L536.68,651.18 L537.29,651.49 L537.89,651.82 L538.50,652.17 L539.10,652.53 L539.71,652.91 L540.31,653.31 L540.91,653.72 L541.51,654.16 L542.09,654.60 L542.66,655.07 L543.21,655.54 L543.73,656.03 L544.21,656.53 L544.66,657.05 L545.07,657.57 L545.42,658.09 L545.73,658.63 L545.97,659.17 L546.15,659.72 L546.26,660.27 L546.30,660.82 L546.26,661.37 L546.14,661.93 L545.96,662.48 L545.71,663.04 L545.41,663.59 L545.06,664.14 L544.67,664.68 L544.25,665.23 L543.80,665.76 L543.33,666.29 L542.85,666.82 L542.36,667.34 L541.86,667.85 L541.38,668.35 L540.89,668.84 L540.40,669.33 L539.92,669.81 L539.44,670.28 L538.96,670.75 L538.48,671.20 L538.00,671.66 L537.52,672.10 L537.05,672.54 L536.57,672.98 L536.10,673.40 L535.62,673.83 L535.15,674.25 L534.67,674.66 L534.20,675.07 L533.72,675.47 L533.25,675.87 L532.77,676.27 L532.30,676.66 L531.82,677.05 L531.34,677.44 L530.86,677.82 L530.38,678.20 L529.90,678.58 L529.42,678.96 L528.93,679.33 L528.45,679.71 L527.96,680.08 L527.47,680.45 L526.98,680.82 L526.48,681.19 L525.98,681.55 L525.49,681.92 L524.99,682.29 L524.48,682.66 L523.98,683.03 L523.48,683.41 L522.98,683.78 L522.48,684.16 L521.98,684.54 L521.48,684.93 L520.98,685.32 L520.48,685.72 L519.98,686.12 L519.49,686.52 L519.00,686.93 L518.51,687.35 L518.03,687.78 L517.55,688.21 L517.07,688.65 L516.60,689.10 L516.13,689.56 L515.67,690.03 L515.21,690.50 L514.76,690.99 L514.31,691.49 L513.87,692.00 L513.44,692.52 L513.01,693.05 L512.60,693.59 L512.20,694.15 L511.81,694.71 L511.45,695.28 L511.11,695.86 L510.79,696.44 L510.50,697.03 L510.24,697.63 L510.02,698.23 L509.83,698.84 L509.68,699.45 L509.57,700.06 L509.50,700.68 L509.48,701.29 L509.52,701.91 L509.60,702.53 L509.73,703.14 L509.90,703.75 L510.12,704.36 L510.38,704.95 L510.67,705.54 L511.00,706.12 L511.36,706.68 L511.74,707.22 L512.15,707.75 L512.59,708.26 L513.04,708.75 L513.51,709.22 L513.99,709.66 L514.49,710.08 L515.00,710.48 L515.52,710.85 L516.05,711.19 L516.59,711.52 L517.14,711.83 L517.71,712.11 L518.28,712.38 L518.86,712.62 L519.45,712.85 L520.05,713.07 L520.65,713.26 L521.26,713.45 L521.88,713.61 L522.51,713.77 L523.14,713.91 L523.78,714.04 L524.42,714.15 L525.07,714.26 L525.72,714.36 L526.38,714.44 L527.04,714.52 L527.70,714.60 L528.36,714.66 L529.03,714.72 L529.70,714.78 L530.37,714.83 L531.04,714.87 L531.71,714.92 L532.38,714.96 L533.05,715.00 L533.71,715.04 L534.38,715.09 L535.05,715.13 L535.71,715.17 L536.37,715.22 L537.03,715.27 L537.69,715.32 L538.35,715.37 L539.00,715.42 L539.65,715.47 L540.30,715.53 L540.95,715.59 L541.60,715.64 L542.25,715.70 L542.89,715.76 L543.54,715.82 L544.18,715.88 L544.82,715.94 L545.46,716.01 L546.10,716.07 L546.73,716.13 L547.37,716.20 L548.00,716.26 L548.64,716.33 L549.27,716.40 L549.90,716.46 L550.53,716.53 L551.16,716.60 L551.79,716.67 L552.42,716.73 L553.04,716.80 L553.67,716.87 L554.29,716.94 L554.92,717.01 L555.54,717.08 L556.16,717.15 L556.79,717.22 L557.41,717.28 L558.03,717.35 L558.65,717.42 L559.27,717.49 L559.89,717.56 L560.51,717.62 L561.13,717.69 L561.75,717.76 L562.37,717.82 L562.99,717.89 L563.61,717.95 L564.22,718.02 L564.84,718.08 L565.46,718.14 L566.08,718.20 L566.70,718.26 L567.32,718.32 L567.94,718.38 L568.56,718.44 L569.18,718.50 L569.80,718.55 L570.42,718.60 L571.04,718.66 L571.66,718.71 L572.28,718.76 L572.90,718.81 L573.52,718.85 L574.14,718.90 L574.77,718.94 L575.39,718.99 L576.02,719.03 L576.64,719.07 L577.27,719.10 L577.90,719.14 L578.52,719.17 L579.15,719.20 L579.78,719.23 L580.41,719.26 L581.04,719.29 L581.68,719.31 L582.31,719.33 L582.95,719.35 L583.58,719.37 L584.22,719.38 L584.86,719.39 L585.50,719.40 L586.14,719.41 L586.78,719.42 L587.43,719.42 L588.07,719.42 L588.72,719.41 L589.37,719.41 L590.02,719.40 L590.67,719.39 L591.33,719.37 L591.98,719.36 L592.64,719.34 L593.30,719.31 L593.96,719.29 L594.62,719.26 L595.29,719.22 L595.96,719.19 L596.62,719.15 L597.29,719.11 L597.97,719.06 L598.64,719.01 L599.32,718.96 L600.00,718.90" fill="none" stroke="#231f20" stroke-width="3.6" stroke-linejoin="round"/>
<path d="M599.1,712.9 L616.6,717.9 L616.6,721.7 L599.1,725.9 Z" fill="#231f20"/>
<text x="130.22" y="213.10" style="font-family:&quot;Liberation Serif&quot;,serif;font-size:60px" fill="#231f20" >6</text><text x="156.91" y="213.10" style="font-family:&quot;Liberation Serif&quot;,serif;font-size:60px" fill="#231f20" >0</text>
<text x="129.63" y="382.40" style="font-family:&quot;Liberation Serif&quot;,serif;font-size:60px" fill="#231f20" >3</text><text x="156.51" y="382.40" style="font-family:&quot;Liberation Serif&quot;,serif;font-size:60px" fill="#231f20" >0</text>
<text x="157.01" y="549.90" style="font-family:&quot;Liberation Serif&quot;,serif;font-size:60px" fill="#231f20" >0</text>
<text x="129.16" y="678.80" style="font-family:&quot;Liberation Serif&quot;,serif;font-size:60px" fill="#231f20" >2</text><text x="156.51" y="678.80" style="font-family:&quot;Liberation Serif&quot;,serif;font-size:60px" fill="#231f20" >0</text>
<text x="131.83" y="861.20" style="font-family:&quot;Liberation Serif&quot;,serif;font-size:60px" fill="#231f20" >1</text><text x="156.51" y="861.20" style="font-family:&quot;Liberation Serif&quot;,serif;font-size:60px" fill="#231f20" >0</text>
<text x="155.91" y="1044.80" style="font-family:&quot;Liberation Serif&quot;,serif;font-size:60px" fill="#231f20" >0</text>
<text x="894.83" y="614.80" style="font-family:&quot;Liberation Serif&quot;,serif;font-size:60px" fill="#231f20" >3</text>
<text x="894.26" y="759.00" style="font-family:&quot;Liberation Serif&quot;,serif;font-size:60px" fill="#231f20" >2</text>
<text x="897.83" y="901.70" style="font-family:&quot;Liberation Serif&quot;,serif;font-size:60px" fill="#231f20" >1</text>
<text x="895.41" y="1044.80" style="font-family:&quot;Liberation Serif&quot;,serif;font-size:60px" fill="#231f20" >0</text>
<text x="180.71" y="1081.50" style="font-family:&quot;Liberation Serif&quot;,serif;font-size:60px" fill="#231f20" >0</text>
<text x="337.63" y="1081.50" style="font-family:&quot;Liberation Serif&quot;,serif;font-size:60px" fill="#231f20" >1</text><text x="361.91" y="1081.50" style="font-family:&quot;Liberation Serif&quot;,serif;font-size:60px" fill="#231f20" >0</text>
<text x="503.36" y="1081.50" style="font-family:&quot;Liberation Serif&quot;,serif;font-size:60px" fill="#231f20" >2</text><text x="530.71" y="1081.50" style="font-family:&quot;Liberation Serif&quot;,serif;font-size:60px" fill="#231f20" >0</text>
<text x="672.73" y="1081.50" style="font-family:&quot;Liberation Serif&quot;,serif;font-size:60px" fill="#231f20" >3</text><text x="699.61" y="1081.50" style="font-family:&quot;Liberation Serif&quot;,serif;font-size:60px" fill="#231f20" >0</text>
<text x="841.43" y="1081.50" style="font-family:&quot;Liberation Serif&quot;,serif;font-size:60px" fill="#231f20" >4</text><text x="867.41" y="1081.50" style="font-family:&quot;Liberation Serif&quot;,serif;font-size:60px" fill="#231f20" >0</text>
<text x="481.46" y="1156.60" style="font-family:&quot;Liberation Serif&quot;,serif;font-size:74.4px" fill="#231f20" >T</text><text x="537.73" y="1156.60" style="font-family:&quot;Liberation Serif&quot;,serif;font-size:74.4px" fill="#231f20" >(</text><text x="558.56" y="1156.60" style="font-family:&quot;Liberation Serif&quot;,serif;font-size:74.4px" fill="#231f20" >K</text><text x="606.20" y="1156.60" style="font-family:&quot;Liberation Serif&quot;,serif;font-size:74.4px" fill="#231f20" >)</text>
<text x="788.27" y="483.50" style="font-family:&quot;Liberation Serif&quot;,serif;font-size:89px" fill="#231f20" >a</text><text x="824.23" y="483.50" style="font-family:&quot;Liberation Serif&quot;,serif;font-size:89px" fill="#231f20" >.</text>
<text x="785.70" y="978.40" style="font-family:&quot;Liberation Serif&quot;,serif;font-size:89px" fill="#231f20" >b</text><text x="826.53" y="978.40" style="font-family:&quot;Liberation Serif&quot;,serif;font-size:89px" fill="#231f20" >.</text>
<text x="208.27" y="605.50" style="font-family:&quot;Liberation Serif&quot;,serif;font-size:50px;font-style:italic" fill="#231f20" >R</text><text x="246.34" y="605.50" style="font-family:&quot;Liberation Serif&quot;,serif;font-size:50px;font-style:italic" fill="#231f20" >l</text><text x="258.12" y="605.50" style="font-family:&quot;Liberation Serif&quot;,serif;font-size:50px;font-style:italic" fill="#231f20" >n</text><text x="287.30" y="605.50" style="font-family:&quot;Liberation Serif&quot;,serif;font-size:50px" fill="#231f20" >(</text><text x="300.51" y="605.50" style="font-family:&quot;Liberation Serif&quot;,serif;font-size:50px" fill="#231f20" >3</text><text x="322.89" y="605.50" style="font-family:&quot;Liberation Serif&quot;,serif;font-size:50px" fill="#231f20" >)</text><text x="384.67" y="605.50" style="font-family:&quot;Liberation Serif&quot;,serif;font-size:50px;font-style:italic" fill="#231f20" >R</text><text x="422.14" y="605.50" style="font-family:&quot;Liberation Serif&quot;,serif;font-size:50px;font-style:italic" fill="#231f20" >l</text><text x="433.92" y="605.50" style="font-family:&quot;Liberation Serif&quot;,serif;font-size:50px;font-style:italic" fill="#231f20" >n</text><text x="463.70" y="605.50" style="font-family:&quot;Liberation Serif&quot;,serif;font-size:50px" fill="#231f20" >(</text><text x="477.45" y="605.50" style="font-family:&quot;Liberation Serif&quot;,serif;font-size:50px" fill="#231f20" >6</text><text x="498.49" y="605.50" style="font-family:&quot;Liberation Serif&quot;,serif;font-size:50px" fill="#231f20" >)</text><text x="559.60" y="605.50" style="font-family:&quot;Liberation Serif&quot;,serif;font-size:50px" fill="#231f20" >2</text><text x="583.60" y="605.50" style="font-family:&quot;Liberation Serif&quot;,serif;font-size:50px" fill="#231f20" >.</text><text x="594.90" y="605.50" style="font-family:&quot;Liberation Serif&quot;,serif;font-size:50px" fill="#231f20" >8</text><text x="615.69" y="605.50" style="font-family:&quot;Liberation Serif&quot;,serif;font-size:50px" fill="#231f20" >9</text><text x="637.37" y="605.50" style="font-family:&quot;Liberation Serif&quot;,serif;font-size:50px;font-style:italic" fill="#231f20" >R</text>
<path d="M349.9,589H376M362.9,576.1V601.9M526.3,585.1H552.3M526.3,593.1H552.3" stroke="#231f20" stroke-width="1.9" fill="none"/>
<text transform="translate(95.40,0) rotate(-90)" x="-478.89" y="0" style="font-family:&quot;Liberation Serif&quot;,serif;font-size:74.4px;font-style:italic" fill="#231f20">c</text><text transform="translate(120.70,0) rotate(-90)" x="-450.48" y="0" style="font-family:&quot;Liberation Serif&quot;,serif;font-size:43px;font-style:italic" fill="#231f20">p</text><text transform="translate(94.20,0) rotate(-90)" x="-411.27" y="0" style="font-family:&quot;Liberation Serif&quot;,serif;font-size:74.4px" fill="#231f20">(</text><text transform="translate(94.20,0) rotate(-90)" x="-388.96" y="0" style="font-family:&quot;Liberation Serif&quot;,serif;font-size:74.4px" fill="#231f20">J</text><text transform="translate(94.20,0) rotate(-90)" x="-362.20" y="0" style="font-family:&quot;Liberation Serif&quot;,serif;font-size:74.4px" fill="#231f20">/</text><text transform="translate(94.20,0) rotate(-90)" x="-343.66" y="0" style="font-family:&quot;Liberation Serif&quot;,serif;font-size:74.4px" fill="#231f20">m</text><text transform="translate(94.20,0) rotate(-90)" x="-292.53" y="0" style="font-family:&quot;Liberation Serif&quot;,serif;font-size:74.4px" fill="#231f20">o</text><text transform="translate(94.20,0) rotate(-90)" x="-255.99" y="0" style="font-family:&quot;Liberation Serif&quot;,serif;font-size:74.4px" fill="#231f20">l</text><text transform="translate(94.20,0) rotate(-90)" x="-239.31" y="0" style="font-family:&quot;Liberation Serif&quot;,serif;font-size:74.4px" fill="#231f20">e</text><text transform="translate(94.20,0) rotate(-90)" x="-192.64" y="0" style="font-family:&quot;Liberation Serif&quot;,serif;font-size:74.4px" fill="#231f20">K</text><text transform="translate(94.20,0) rotate(-90)" x="-144.30" y="0" style="font-family:&quot;Liberation Serif&quot;,serif;font-size:74.4px" fill="#231f20">)</text>
<text transform="translate(100.80,0) rotate(-90)" x="-1026.99" y="0" style="font-family:&quot;Liberation Serif&quot;,serif;font-size:74.4px;font-style:italic" fill="#231f20">c</text><text transform="translate(126.30,0) rotate(-90)" x="-998.78" y="0" style="font-family:&quot;Liberation Serif&quot;,serif;font-size:43px;font-style:italic" fill="#231f20">p</text><text transform="translate(126.30,0) rotate(-90)" x="-977.33" y="0" style="font-family:&quot;Liberation Serif&quot;,serif;font-size:43px;font-style:italic" fill="#231f20">,</text><text transform="translate(126.30,0) rotate(-90)" x="-966.55" y="0" style="font-family:&quot;Liberation Serif&quot;,serif;font-size:43px;font-style:italic" fill="#231f20">m</text><text transform="translate(126.30,0) rotate(-90)" x="-935.48" y="0" style="font-family:&quot;Liberation Serif&quot;,serif;font-size:43px;font-style:italic" fill="#231f20">a</text><text transform="translate(126.30,0) rotate(-90)" x="-914.02" y="0" style="font-family:&quot;Liberation Serif&quot;,serif;font-size:43px;font-style:italic" fill="#231f20">g</text><text transform="translate(99.90,0) rotate(-90)" x="-879.67" y="0" style="font-family:&quot;Liberation Serif&quot;,serif;font-size:74.4px" fill="#231f20">(</text><text transform="translate(99.90,0) rotate(-90)" x="-857.36" y="0" style="font-family:&quot;Liberation Serif&quot;,serif;font-size:74.4px" fill="#231f20">J</text><text transform="translate(99.90,0) rotate(-90)" x="-830.60" y="0" style="font-family:&quot;Liberation Serif&quot;,serif;font-size:74.4px" fill="#231f20">/</text><text transform="translate(99.90,0) rotate(-90)" x="-812.06" y="0" style="font-family:&quot;Liberation Serif&quot;,serif;font-size:74.4px" fill="#231f20">m</text><text transform="translate(99.90,0) rotate(-90)" x="-760.93" y="0" style="font-family:&quot;Liberation Serif&quot;,serif;font-size:74.4px" fill="#231f20">o</text><text transform="translate(99.90,0) rotate(-90)" x="-724.39" y="0" style="font-family:&quot;Liberation Serif&quot;,serif;font-size:74.4px" fill="#231f20">l</text><text transform="translate(99.90,0) rotate(-90)" x="-707.71" y="0" style="font-family:&quot;Liberation Serif&quot;,serif;font-size:74.4px" fill="#231f20">e</text><text transform="translate(99.90,0) rotate(-90)" x="-661.04" y="0" style="font-family:&quot;Liberation Serif&quot;,serif;font-size:74.4px" fill="#231f20">K</text><text transform="translate(99.90,0) rotate(-90)" x="-612.70" y="0" style="font-family:&quot;Liberation Serif&quot;,serif;font-size:74.4px" fill="#231f20">)</text>
<text transform="translate(1001.20,0) rotate(-90)" x="-866.47" y="0" style="font-family:&quot;Liberation Serif&quot;,serif;font-size:74.4px;font-style:italic" fill="#231f20">S</text><text transform="translate(1001.20,0) rotate(-90)" x="-815.97" y="0" style="font-family:&quot;Liberation Serif&quot;,serif;font-size:74.4px" fill="#231f20">(</text><text transform="translate(1001.20,0) rotate(-90)" x="-795.00" y="0" style="font-family:&quot;Liberation Serif&quot;,serif;font-size:74.4px;font-style:italic" fill="#231f20">R</text><text transform="translate(1001.20,0) rotate(-90)" x="-753.20" y="0" style="font-family:&quot;Liberation Serif&quot;,serif;font-size:74.4px" fill="#231f20">)</text>
</svg></body></html>
